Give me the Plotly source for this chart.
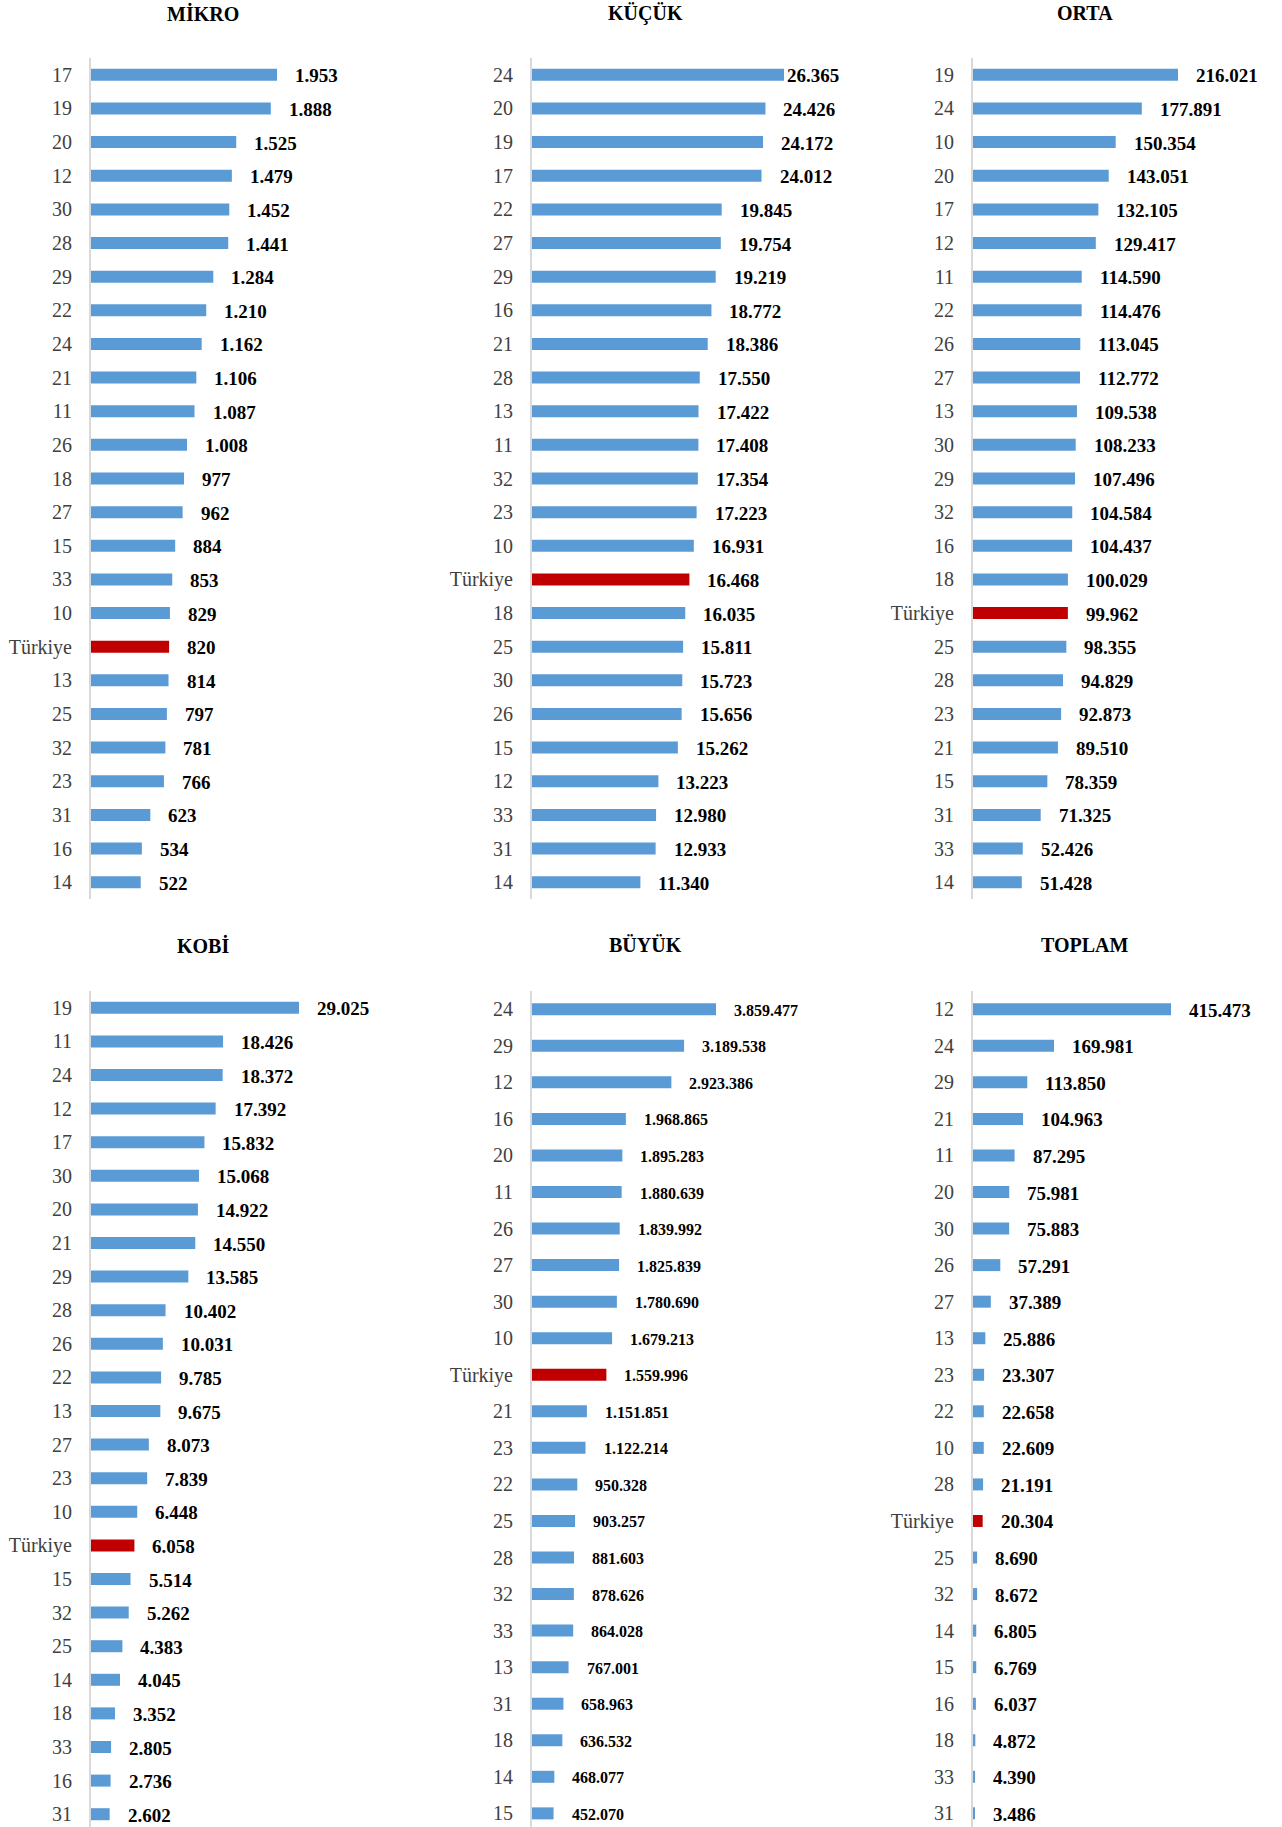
import plotly.graph_objects as go

# ---- data -------------------------------------------------------------
mikro_cats = ["17", "19", "20", "12", "30", "28", "29", "22", "24", "21", "11", "26", "18",
              "27", "15", "33", "10", "Türkiye", "13", "25", "32", "23", "31", "16", "14"]
mikro_vals = [1953, 1888, 1525, 1479, 1452, 1441, 1284, 1210, 1162, 1106, 1087, 1008, 977,
              962, 884, 853, 829, 820, 814, 797, 781, 766, 623, 534, 522]

kucuk_cats = ["24", "20", "19", "17", "22", "27", "29", "16", "21", "28", "13", "11", "32",
              "23", "10", "Türkiye", "18", "25", "30", "26", "15", "12", "33", "31", "14"]
kucuk_vals = [26365, 24426, 24172, 24012, 19845, 19754, 19219, 18772, 18386, 17550, 17422,
              17408, 17354, 17223, 16931, 16468, 16035, 15811, 15723, 15656, 15262, 13223,
              12980, 12933, 11340]

orta_cats = ["19", "24", "10", "20", "17", "12", "11", "22", "26", "27", "13", "30", "29",
             "32", "16", "18", "Türkiye", "25", "28", "23", "21", "15", "31", "33", "14"]
orta_vals = [216021, 177891, 150354, 143051, 132105, 129417, 114590, 114476, 113045, 112772,
             109538, 108233, 107496, 104584, 104437, 100029, 99962, 98355, 94829, 92873,
             89510, 78359, 71325, 52426, 51428]

kobi_cats = ["19", "11", "24", "12", "17", "30", "20", "21", "29", "28", "26", "22", "13",
             "27", "23", "10", "Türkiye", "15", "32", "25", "14", "18", "33", "16", "31"]
kobi_vals = [29025, 18426, 18372, 17392, 15832, 15068, 14922, 14550, 13585, 10402, 10031,
             9785, 9675, 8073, 7839, 6448, 6058, 5514, 5262, 4383, 4045, 3352, 2805, 2736, 2602]

buyuk_cats = ["24", "29", "12", "16", "20", "11", "26", "27", "30", "10", "Türkiye", "21",
              "23", "22", "25", "28", "32", "33", "13", "31", "18", "14", "15"]
buyuk_vals = [3859477, 3189538, 2923386, 1968865, 1895283, 1880639, 1839992, 1825839,
              1780690, 1679213, 1559996, 1151851, 1122214, 950328, 903257, 881603, 878626,
              864028, 767001, 658963, 636532, 468077, 452070]

toplam_cats = ["12", "24", "29", "21", "11", "20", "30", "26", "27", "13", "23", "22", "10",
               "28", "Türkiye", "25", "32", "14", "15", "16", "18", "33", "31"]
toplam_vals = [415473, 169981, 113850, 104963, 87295, 75981, 75883, 57291, 37389, 25886,
               23307, 22658, 22609, 21191, 20304, 8690, 8672, 6805, 6769, 6037, 4872, 4390, 3486]

titles = ["MİKRO", "KÜÇÜK", "ORTA", "KOBİ", "BÜYÜK", "TOPLAM"]

# ---- layout parameters ------------------------------------------------
W, H = 1282, 1827
BLUE, RED = "#5B9BD5", "#C00000"
FONT = "Liberation Serif"

panels = [
    dict(title=titles[0], cats=mikro_cats, vals=mikro_vals, left=91, scale=186 / 1953,
         top=58, bottom=899, label_size=19),
    dict(title=titles[1], cats=kucuk_cats, vals=kucuk_vals, left=532, scale=252 / 26365,
         top=58, bottom=899, label_size=19),
    dict(title=titles[2], cats=orta_cats, vals=orta_vals, left=973, scale=205 / 216021,
         top=58, bottom=899, label_size=19),
    dict(title=titles[3], cats=kobi_cats, vals=kobi_vals, left=91, scale=208 / 29025,
         top=991, bottom=1827, spacing=33.6, label_size=19),
    dict(title=titles[4], cats=buyuk_cats, vals=buyuk_vals, left=532, scale=184 / 3859477,
         top=991, bottom=1827, spacing=36.55, label_size=16),
    dict(title=titles[5], cats=toplam_cats, vals=toplam_vals, left=973, scale=198 / 415473,
         top=991, bottom=1827, spacing=36.55, label_size=19),
]
title_pos = [(203, 13), (645, 13), (1085, 13), (203, 945), (645, 945), (1085, 945)]

# label placed tight against the bar where it would run past the chart edge
label_shift = {("KÜÇÜK", "24"): 1}

PLOT_W = 262
BAR_PX = 12


def fmt(v):
    return f"{v:,}".replace(",", ".")


fig = go.Figure()
annotations = []

for i, p in enumerate(panels, start=1):
    n = len(p["cats"])
    rows = list(range(n))
    xa = "x" if i == 1 else f"x{i}"
    ya = "y" if i == 1 else f"y{i}"
    spacing = p.get("spacing", (p["bottom"] - p["top"]) / n)
    colors = [RED if c == "Türkiye" else BLUE for c in p["cats"]]

    fig.add_trace(go.Bar(
        x=p["vals"], y=rows, orientation="h",
        marker=dict(color=colors, line=dict(width=0)),
        width=BAR_PX / spacing,
        customdata=p["cats"],
        hovertemplate="%{customdata}: %{x}<extra></extra>",
        xaxis=xa, yaxis=ya, showlegend=False,
    ))

    for r, c, v in zip(rows, p["cats"], p["vals"]):
        annotations.append(dict(
            x=v, y=r, xref=xa, yref=ya, text=fmt(v), showarrow=False,
            xanchor="left", yanchor="middle", yshift=-1,
            xshift=label_shift.get((p["title"], c), 16),
            font=dict(family=FONT, size=p["label_size"], color="#000000", weight="bold"),
        ))

    tx, ty = title_pos[i - 1]
    annotations.append(dict(
        x=tx / W, y=1 - ty / H, xref="paper", yref="paper", text=p["title"],
        showarrow=False, xanchor="center", yanchor="middle",
        font=dict(family=FONT, size=20, color="#000000", weight="bold"),
    ))

    height_px = p["bottom"] - p["top"]
    y_low = -0.5 + height_px / spacing
    suffix = str(i) if i > 1 else ""
    fig.layout["xaxis" + suffix] = dict(
        domain=[p["left"] / W, (p["left"] + PLOT_W) / W],
        range=[0, PLOT_W / p["scale"]],
        anchor=ya, showgrid=False, zeroline=False, showticklabels=False,
        showline=False, fixedrange=True,
    )
    fig.layout["yaxis" + suffix] = dict(
        domain=[1 - p["bottom"] / H, 1 - p["top"] / H],
        tickmode="array", tickvals=rows, ticktext=p["cats"],
        range=[y_low, -0.5], anchor=xa,
        showgrid=False, zeroline=False, showline=True, linecolor="#D9D9D9", linewidth=2,
        ticks="", ticklabelstandoff=13,
        tickfont=dict(family=FONT, size=20, color="#404040"),
    )

fig.update_layout(
    width=W, height=H,
    margin=dict(l=0, r=0, t=0, b=0),
    paper_bgcolor="white", plot_bgcolor="white",
    annotations=annotations,
)

fig.write_html("out.html")
